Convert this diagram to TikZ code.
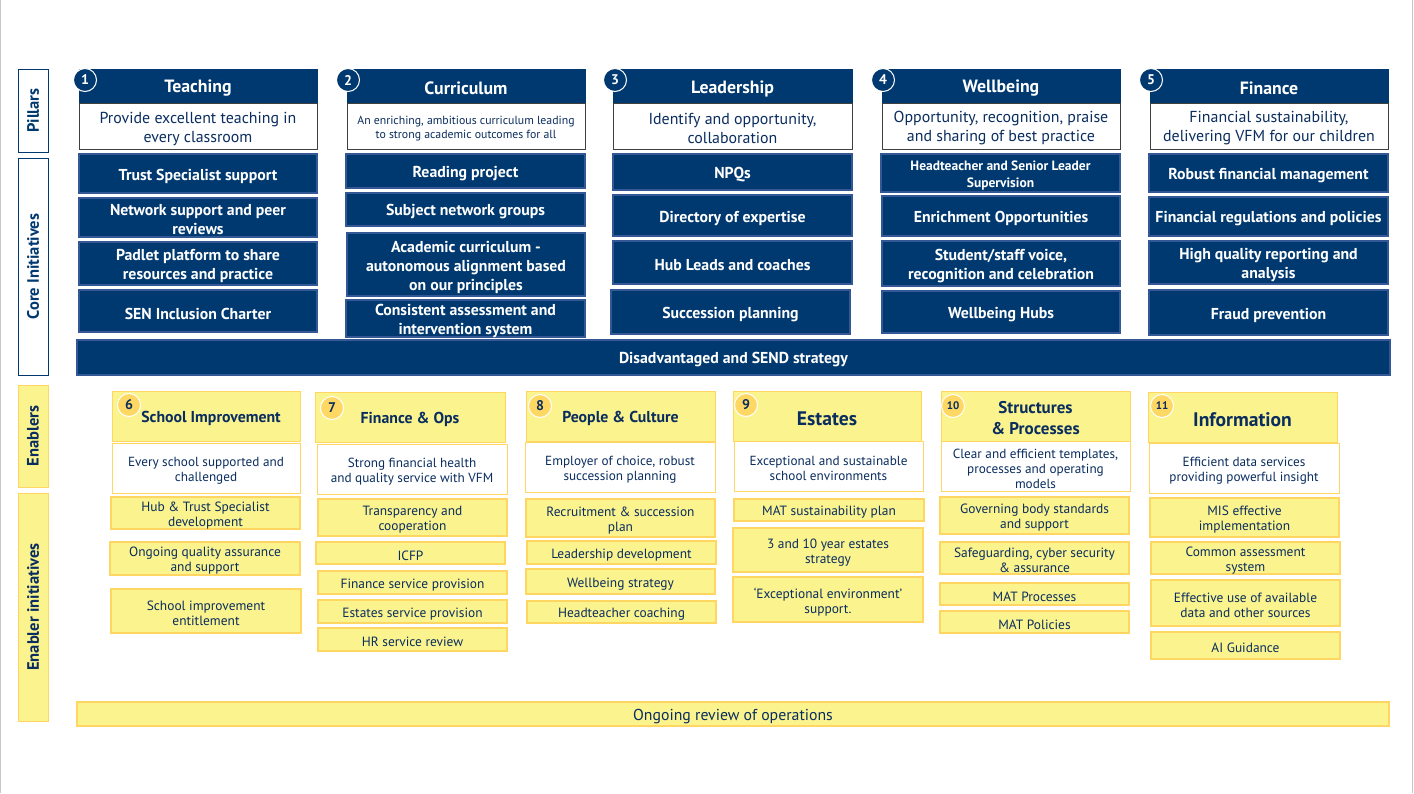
\documentclass[tikz,border=0pt]{standalone}
\usepackage{fontspec}
\setmainfont{PT Sans}
\definecolor{navy}{RGB}{0,57,112}
\definecolor{navyedge}{RGB}{52,88,150}
\definecolor{navytext}{RGB}{10,45,95}
\definecolor{yfill}{RGB}{250,243,142}
\definecolor{yedge}{RGB}{255,214,98}
\definecolor{ycirc}{RGB}{255,216,100}
\definecolor{frame}{RGB}{200,200,200}
\newcommand\fs[2]{\fontsize{#1}{#2}\selectfont}
\newcommand\bx[7]{%
  \node[#2, anchor=north west, minimum width=#5pt-#3pt, minimum height=#6pt-#4pt] (#1) at (#3,#4) {};
  \node[#2, fill=none, draw=none, minimum width=0pt, minimum height=0pt] (#1t) at ([yshift=-2.5pt]#1.center) {#7};}
\tikzset{
  base/.style={inner sep=1pt, outer sep=0pt, align=center},
  ptitle/.style={base, fill=navy, draw=navy, text=white, font=\fs{17.8}{20}\bfseries},
  psub/.style={base, fill=white, draw=black!75, line width=0.8pt, text=navytext, font=\fs{15.9}{19}},
  core/.style={base, fill=navy, draw=navyedge, line width=1.2pt, text=white, font=\fs{15.8}{19}\bfseries},
  side/.style={base, fill=white, draw=navy, line width=1pt, text=navy},
  yside/.style={base, fill=yfill, draw=yedge, line width=1pt, text=navytext},
  sidetext/.style={rotate=90, inner sep=0pt, font=\fs{16.5}{18}\bfseries},
  etitle/.style={base, fill=yfill, draw=yedge, line width=0.8pt, text=navytext, font=\fs{15.8}{21}\bfseries},
  esub/.style={base, fill=white, draw=yedge, line width=0.8pt, text=navytext, font=\fs{13.2}{15}},
  eini/.style={base, fill=yfill, draw=yedge, line width=1.8pt, text=navytext, font=\fs{13.4}{15}},
  ncirc/.style={circle, fill=navy, draw=white, line width=1pt, text=white, minimum size=23pt, inner sep=0pt, font=\fs{14}{14}\bfseries},
  ycircs/.style={circle, fill=ycirc, draw=white, line width=1pt, text=navytext, minimum size=23pt, inner sep=0pt, font=\fs{14}{14}\bfseries},
}
\begin{document}
\begin{tikzpicture}[x=1pt,y=-1pt]
\useasboundingbox (0,0) rectangle (1414,793);
\fill[white] (0,0) rectangle (1414,793);
\draw[frame, line width=1pt] (0.5,0) -- (0.5,793);
\draw[frame, line width=1pt] (1412.5,0) -- (1412.5,793);

% side labels
\node[side, anchor=north west, minimum width=30pt, minimum height=83pt] (lp) at (18,69) {};
\node[sidetext, text=navy] (lpt) at (lp.center) {Pillars};
\node[side, anchor=north west, minimum width=30pt, minimum height=217pt] (lc) at (18,158) {};
\node[sidetext, text=navy] (lct) at (lc.center) {Core Initiatives};
\node[yside, anchor=north west, minimum width=30pt, minimum height=102pt] (le) at (18,385) {};
\node[sidetext, text=navytext] (let) at (le.center) {Enablers};
\node[yside, anchor=north west, minimum width=30pt, minimum height=228pt] (lei) at (18,493) {};
\node[sidetext, text=navytext] (leit) at (lei.center) {Enabler initiatives};

% pillar 1
\bx{t1}{ptitle}{79}{69}{317}{103}{Teaching}
\bx{s1}{psub}{79}{103}{317}{149}{Provide excellent teaching in\\every classroom}
\bx{c11}{core}{79}{154}{317}{193}{Trust Specialist support}
\bx{c12}{core}{79}{198}{317}{237}{Network support and peer\\reviews}
\bx{c13}{core}{79}{242}{317}{285}{Padlet platform to share\\resources and practice}
\bx{c14}{core}{79}{290}{317}{332}{SEN Inclusion Charter}
\node[ncirc] (n1) at (85,80) {1};

% pillar 2
\bx{t2}{ptitle}{347}{69}{585}{103}{Curriculum}
\bx{s2}{psub, font=\fs{11.8}{14}}{347}{103}{585}{149}{An enriching, ambitious curriculum leading\\to strong academic outcomes for all}
\bx{c21}{core}{346}{154}{585}{188}{Reading project}
\bx{c22}{core}{346}{193}{585}{226}{Subject network groups}
\bx{c23}{core}{347}{233}{585}{296}{Academic curriculum -\\autonomous alignment based\\on our principles}
\bx{c24}{core}{346}{300}{585}{337}{Consistent assessment and\\intervention system}
\node[ncirc] (n2) at (348,80) {2};

% pillar 3
\bx{t3}{ptitle}{613}{69}{852}{103}{Leadership}
\bx{s3}{psub}{613}{103}{852}{149}{Identify and opportunity,\\collaboration}
\bx{c31}{core}{613}{154}{852}{190}{NPQs}
\bx{c32}{core}{613}{195}{852}{236}{Directory of expertise}
\bx{c33}{core}{613}{241}{852}{284}{Hub Leads and coaches}
\bx{c34}{core}{611}{290}{850}{334}{Succession planning}
\node[ncirc] (n3) at (615,80) {3};

% pillar 4
\bx{t4}{ptitle}{882}{69}{1120}{103}{Wellbeing}
\bx{s4}{psub}{882}{103}{1120}{149}{Opportunity, recognition, praise\\and sharing of best practice}
\bx{c41}{core, font=\fs{13.5}{17}\bfseries}{881}{154}{1120}{192}{Headteacher and Senior Leader\\Supervision}
\bx{c42}{core}{882}{196}{1120}{236}{Enrichment Opportunities}
\bx{c43}{core}{882}{241}{1120}{286}{Student/staff voice,\\recognition and celebration}
\bx{c44}{core}{882}{291}{1120}{333}{Wellbeing Hubs}
\node[ncirc] (n4) at (883,80) {4};

% pillar 5
\bx{t5}{ptitle}{1150}{69}{1388}{103}{Finance}
\bx{s5}{psub}{1150}{103}{1388}{149}{Financial sustainability,\\delivering VFM for our children}
\bx{c51}{core}{1149}{154}{1388}{192}{Robust financial management}
\bx{c52}{core}{1149}{197}{1388}{236}{Financial regulations and policies}
\bx{c53}{core}{1149}{241}{1388}{284}{High quality reporting and\\analysis}
\bx{c54}{core}{1149}{290}{1388}{335}{Fraud prevention}
\node[ncirc] (n5) at (1151,80) {5};

% disadvantaged bar
\bx{dis}{core}{77}{340}{1390}{375}{Disadvantaged and SEND strategy}

% enabler 6
\bx{e6}{etitle}{112}{391}{300}{441}{\hspace{10pt}School Improvement}
\bx{f6}{esub}{112}{443}{300}{493}{Every school supported and\\challenged}
\bx{g61}{eini}{111}{497}{300}{529}{Hub \& Trust Specialist\\development}
\bx{g62}{eini}{110}{542}{300}{575}{Ongoing quality assurance\\and support}
\bx{g63}{eini}{111}{589}{301}{633}{School improvement\\entitlement}
\node[ycircs] (n6) at (129,405) {6};

% enabler 7
\bx{e7}{etitle}{315}{392}{505}{442}{Finance \& Ops}
\bx{f7}{esub}{317}{444}{507}{494}{Strong financial health\\and quality service with VFM}
\bx{g71}{eini}{318}{499}{507}{536}{Transparency and\\cooperation}
\bx{g72}{eini}{316}{542}{505}{564}{ICFP}
\bx{g73}{eini}{318}{571}{507}{594}{Finance service provision}
\bx{g74}{eini}{318}{600}{507}{623}{Estates service provision}
\bx{g75}{eini}{318}{628}{507}{651}{HR service review}
\node[ycircs] (n7) at (332,408) {7};

% enabler 8
\bx{e8}{etitle}{526}{391}{715}{441}{People \& Culture}
\bx{f8}{esub}{525}{442}{715}{492}{Employer of choice, robust\\succession planning}
\bx{g81}{eini}{526}{499}{715}{537}{Recruitment \& succession\\plan}
\bx{g82}{eini}{527}{541}{716}{564}{Leadership development}
\bx{g83}{eini}{526}{569}{715}{594}{Wellbeing strategy}
\bx{g84}{eini}{527}{601}{716}{623}{Headteacher coaching}
\node[ycircs] (n8) at (540,406) {8};

% enabler 9
\bx{e9}{etitle, font=\fs{19.6}{21}\bfseries}{733}{391}{921}{441}{Estates}
\bx{f9}{esub}{734}{441}{923}{491}{Exceptional and sustainable\\school environments}
\bx{g91}{eini}{734}{499}{924}{521}{MAT sustainability plan}
\bx{g92}{eini}{733}{528}{923}{572}{3 and 10 year estates\\strategy}
\bx{g93}{eini}{733}{577}{923}{622}{‘Exceptional environment’\\support.}
\node[ycircs] (n9) at (746,405) {9};

% enabler 10
\bx{e10}{etitle, font=\fs{17}{21}\bfseries}{941}{391}{1130}{441}{Structures\\\& Processes}
\bx{f10}{esub}{941}{441}{1130}{491}{Clear and efficient templates,\\processes and operating\\models}
\bx{g101}{eini}{940}{497}{1129}{534}{Governing body standards\\and support}
\bx{g102}{eini}{940}{542}{1129}{574}{Safeguarding, cyber security\\\& assurance}
\bx{g103}{eini}{940}{583}{1129}{605}{MAT Processes}
\bx{g104}{eini}{940}{611}{1129}{633}{MAT Policies}
\node[ycircs, font=\fs{11}{11}\bfseries] (n10) at (953,406) {10};

% enabler 11
\bx{e11}{etitle, font=\fs{19.6}{21}\bfseries}{1148}{392}{1337}{442}{Information}
\bx{f11}{esub}{1149}{443}{1339}{493}{Efficient data services\\providing powerful insight}
\bx{g111}{eini}{1150}{498}{1339}{537}{MIS effective\\implementation}
\bx{g112}{eini}{1151}{542}{1340}{574}{Common assessment\\system}
\bx{g113}{eini}{1151}{580}{1340}{626}{Effective use of available\\data and other sources}
\bx{g114}{eini}{1151}{632}{1340}{659}{AI Guidance}
\node[ycircs, font=\fs{11}{11}\bfseries] (n11) at (1162,406) {11};

% ongoing review bar
\bx{orv}{eini, font=\fs{15.8}{16}}{77}{702}{1389}{726}{Ongoing review of operations}
\end{tikzpicture}
\end{document}
